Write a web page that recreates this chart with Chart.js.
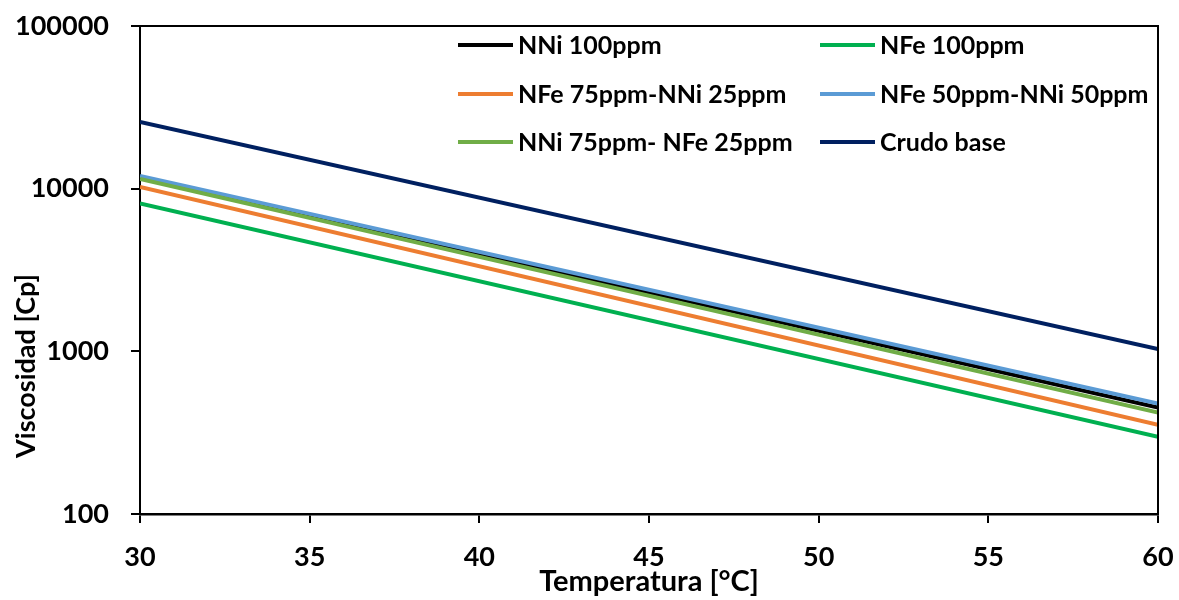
<!DOCTYPE html>
<html>
<head>
<meta charset="utf-8">
<script src="https://cdn.jsdelivr.net/npm/chart.js@4.4.1/dist/chart.umd.min.js"></script>
<style>
  html, body { margin: 0; padding: 0; background: #fff; }
  #wrap { width: 1179px; height: 600px; position: relative; }
</style>
</head>
<body>
<div id="wrap"><canvas id="viscChart"></canvas></div>
<script>
// datos (extremos de cada recta)
const temperaturas = [30, 60];
const nni100 = [11750, 451];
const nfe100 = [8120, 298];
const nfe75nni25 = [10230, 354];
const nfe50nni50 = [11960, 478];
const nni75nfe25 = [11490, 421];
const crudoBase = [25700, 1033];

const seriesNames = ["NNi 100ppm", "NFe 100ppm", "NFe 75ppm-NNi 25ppm", "NFe 50ppm-NNi 50ppm", "NNi 75ppm- NFe 25ppm", "Crudo base"];
const seriesColors = ["#000000", "#00B050", "#ED7D31", "#5B9BD5", "#70AD47", "#002060"];
const seriesValues = [nni100, nfe100, nfe75nni25, nfe50nni50, nni75nfe25, crudoBase];

const yTicks = [100, 1000, 10000, 100000];
const xTicks = [30, 35, 40, 45, 50, 55, 60];
const yTitle = "Viscosidad [Cp]";

const fontFam = "Lato, 'Open Sans', sans-serif";

const datasets = seriesNames.map((name, i) => ({
  label: name,
  data: temperaturas.map((t, j) => ({ x: t, y: seriesValues[i][j] })),
  borderColor: seriesColors[i],
  backgroundColor: seriesColors[i],
  borderWidth: 4,
  pointRadius: 0,
  tension: 0,
  order: seriesNames.length - i
}));

// leyenda en dos columnas dentro del área, marco superior/derecho y título del eje Y
const boxAndLegend = {
  id: "boxAndLegend",
  afterDraw(chart) {
    const ctx = chart.ctx;
    const a = chart.chartArea;
    ctx.save();
    ctx.strokeStyle = "#000";
    ctx.lineWidth = 2;
    ctx.beginPath();
    ctx.moveTo(a.left, a.top);
    ctx.lineTo(a.right, a.top);
    ctx.lineTo(a.right, a.bottom);
    ctx.stroke();

    const colX = [a.left + 318, a.left + 680];
    const rowY = [a.top + 19, a.top + 68, a.top + 116];
    ctx.font = "bold 25px " + fontFam;
    ctx.textBaseline = "middle";
    ctx.fillStyle = "#000";
    chart.data.datasets.forEach((ds, i) => {
      const x = colX[i % 2];
      const y = rowY[Math.floor(i / 2)];
      ctx.strokeStyle = ds.borderColor;
      ctx.lineWidth = 4;
      ctx.beginPath();
      ctx.moveTo(x, y);
      ctx.lineTo(x + 55, y);
      ctx.stroke();
      ctx.fillText(ds.label, x + 60, y + 1);
    });

    // título del eje Y (desplazado hacia abajo como en el original)
    ctx.translate(26, (a.top + a.bottom) / 2 + 96);
    ctx.rotate(-Math.PI / 2);
    ctx.font = "bold 27px " + fontFam;
    ctx.textAlign = "center";
    ctx.fillText(yTitle, 0, 0);
    ctx.restore();
  }
};

new Chart(document.getElementById("viscChart"), {
  type: "line",
  data: { datasets },
  options: {
    responsive: true,
    maintainAspectRatio: false,
    animation: false,
    layout: { padding: { top: 26, right: 21, left: 0, bottom: 0 } },
    plugins: { legend: { display: false }, tooltip: { enabled: false } },
    scales: {
      x: {
        type: "linear",
        min: 30,
        max: 60,
        afterBuildTicks: s => { s.ticks = xTicks.map(v => ({ value: v })); },
        afterFit: s => { s.height = 86; s.paddingLeft = 0; s.paddingRight = 0; },
        ticks: { color: "#000", padding: 18, font: { family: fontFam, size: 27, weight: "bold" } },
        grid: { drawOnChartArea: false, drawTicks: true, tickLength: 9, color: "#000", lineWidth: 2 },
        border: { display: true, color: "#000", width: 2.5 },
        title: {
          display: true, text: "Temperatura [°C]", color: "#000",
          font: { family: fontFam, size: 29, weight: "bold" },
          padding: { top: 0, bottom: 1 }
        }
      },
      y: {
        type: "logarithmic",
        min: 100,
        max: 100000,
        afterBuildTicks: s => { s.ticks = yTicks.map(v => ({ value: v })); },
        afterFit: s => { s.width = 140; s.paddingTop = 0; s.paddingBottom = 0; },
        ticks: {
          color: "#000", padding: 22,
          font: { family: fontFam, size: 27, weight: "bold" },
          callback: v => String(v)
        },
        grid: { drawOnChartArea: false, drawTicks: true, tickLength: 9, color: "#000", lineWidth: 2 },
        border: { display: true, color: "#000", width: 2 },
        title: { display: false }
      }
    }
  },
  plugins: [boxAndLegend]
});
</script>
</body>
</html>
